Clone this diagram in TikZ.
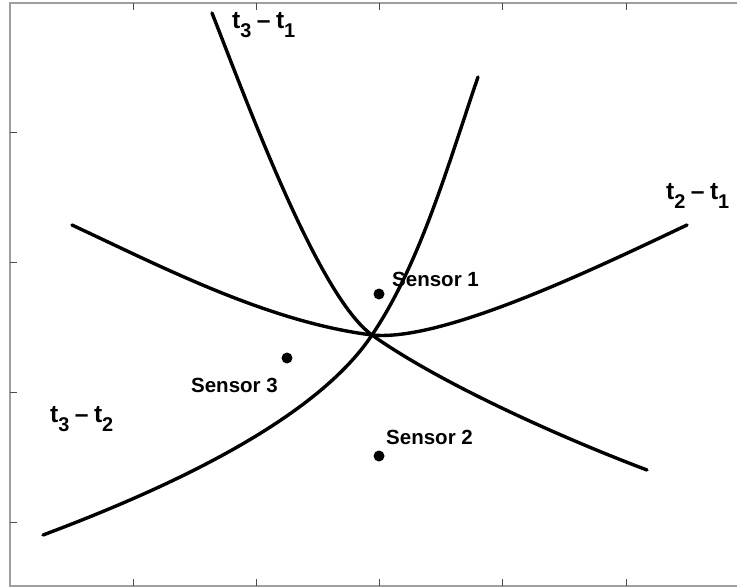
\documentclass[tikz,border=0pt]{standalone}
\usepackage{fontspec}
\setmainfont{Liberation Sans}
\usetikzlibrary{positioning}
\tikzset{
  frameline/.style={gray!75,line width=1.4pt},
  tickline/.style={gray!60!black,line width=0.6pt},
  hyper/.style={black,line width=2.9pt,line cap=round},
  sensordot/.style={circle,fill=black,inner sep=0pt,minimum size=3.3mm},
  sensorlabel/.style={font=\fontsize{17.5}{20}\selectfont\bfseries,inner sep=0pt},
  difflabel/.style={font=\fontsize{21}{24}\selectfont\bfseries,inner sep=0pt}
}
\newcommand{\tdiff}[2]{t\raisebox{-0.75ex}{\fontsize{17}{18}\selectfont #1}\hspace{0.22em}--\hspace{0.22em}t\raisebox{-0.75ex}{\fontsize{17}{18}\selectfont #2}}
\begin{document}
\begin{tikzpicture}[x=0.3mm,y=-0.3mm]
\useasboundingbox (0,0) rectangle (737,588);
% axes frame and ticks
\draw[frameline] (740,3) -- (10,3) -- (10,586) -- (740,586);
\foreach \tx in {133,256,379,502,626} {
  \draw[tickline] (\tx,3) -- (\tx,10);
  \draw[tickline] (\tx,586) -- (\tx,579);
}
\foreach \ty in {132,262,392,522}
  \draw[tickline] (10,\ty) -- (17,\ty);
% crossing point of the three hyperbolas
\coordinate (p) at (372,335);
% t3 - t1
\draw[hyper] (212,13) .. controls (247,102) and (318,296) .. (p)
             .. controls (438,382) and (557,436) .. (647,470);
% t3 - t2
\draw[hyper] (478,77) .. controls (448,165) and (420,264) .. (p)
             .. controls (320,413) and (190,480) .. (43,535);
% t2 - t1
\draw[hyper] (72,225) .. controls (166,269) and (269,322) .. (p)
             .. controls (442,342) and (592,270) .. (687,225);
% sensors
\node[sensordot] (s1) at (379,294) {};
\node[sensordot] (s2) at (379,456) {};
\node[sensordot] (s3) at (287,358) {};
\node[sensorlabel,anchor=west] (l1) at (392,279) {Sensor 1};
\node[sensorlabel,anchor=west] (l2) at (386,437) {Sensor 2};
\node[sensorlabel,anchor=east] (l3) at (278,385) {Sensor 3};
% time differences
\node[difflabel,anchor=west] (d31) at (232,25) {\tdiff{3}{1}};
\node[difflabel,anchor=west] (d21) at (666,196) {\tdiff{2}{1}};
\node[difflabel,anchor=west] (d32) at (50,419) {\tdiff{3}{2}};
\end{tikzpicture}
\end{document}
